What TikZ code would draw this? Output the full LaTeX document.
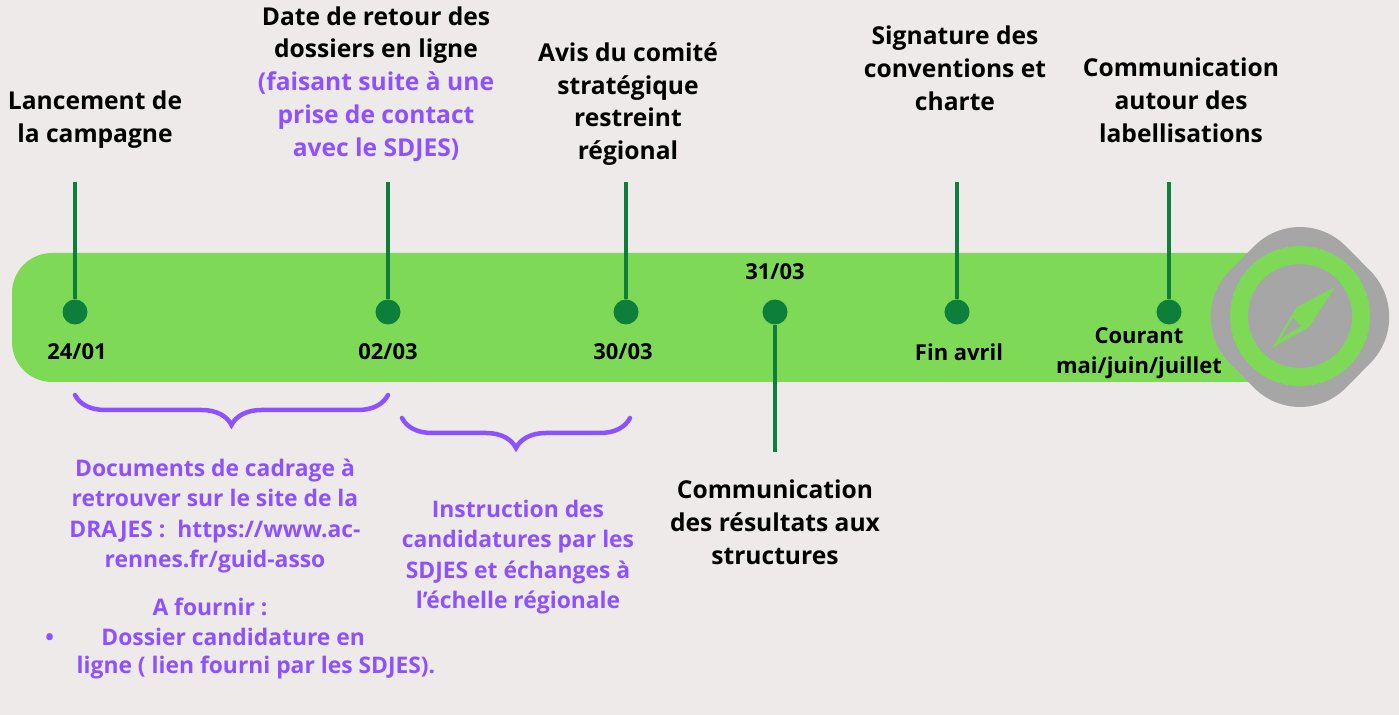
\documentclass[tikz,border=0pt]{standalone}
\usepackage{fontspec}
\setmainfont{Open Sans}
\usetikzlibrary{decorations.pathreplacing}
\definecolor{bgcol}{HTML}{EEEAE9}
\definecolor{barcol}{HTML}{7ED957}
\definecolor{stemcol}{HTML}{0E7F3A}
\definecolor{violet}{HTML}{8C52FF}
\definecolor{greycol}{HTML}{A6A6A6}

\begin{document}
\begin{tikzpicture}[x=0.02cm, y=-0.02cm,
  head/.style={align=center, font=\bfseries\fontsize{14}{18.7}\selectfont, text=black, inner sep=0pt},
  note/.style={align=center, font=\bfseries\fontsize{13}{17.2}\selectfont, text=violet, inner sep=0pt},
  datelbl/.style={font=\bfseries\fontsize{12.5}{17}\selectfont, align=center, inner sep=0pt},
  stem/.style={stemcol, line width=0.09cm},
  pin/.style={circle, fill=stemcol, minimum size=0.5cm, inner sep=0pt},
  bracket/.style={violet, line width=0.09cm, line cap=round, decorate, decoration={brace, mirror, amplitude=0.6cm}}]

% Background
\fill[bgcol] (0,0) rectangle (1399,715);
\useasboundingbox (0,0) rectangle (1399,715);

% Bar
\fill[barcol, rounded corners=0.8cm] (12,253) rectangle (1330,382);

% Compass
\fill[greycol, rounded corners=1.3cm] (1300,200) -- (1416,317) -- (1300,434) -- (1184,317) -- cycle;
\fill[barcol] (1300,316) circle [radius=1.4cm];
\fill[greycol] (1300,316) circle [radius=1.04cm];
\fill[barcol] (1335,287) -- (1297,307) -- (1272,348) -- (1309,327) -- cycle;
\fill[greycol] (1293,318) -- (1280,339) -- (1301,326) -- cycle;

% Stems and pins
\foreach \nm/\px in {lanc/75, retour/388, avis/626, sign/957, comm/1169} {
  \coordinate (\nm-top) at (\px,182);
  \node[pin] (\nm) at (\px,312) {};
  \draw[stem] (\nm-top) -- (\nm);
}
\node[pin] (res) at (775,312) {};
\coordinate (res-bot) at (775,452);
\draw[stem] (res) -- (res-bot);

% Dates
\node[datelbl] (d1) at (77,352) {24/01};
\node[datelbl] (d2) at (388,352) {02/03};
\node[datelbl] (d3) at (623,352) {30/03};
\node[datelbl] (d4) at (775,272) {31/03};
\node[datelbl] (d5) at (959,352) {Fin avril};
\node[datelbl] (d6) at (1139,353) {Courant\\mai/juin/juillet};

% Headings
\node[head] (t1) at (95,120) {Lancement de\\la campagne};
\node[head, anchor=north] (t2) at (376,6) {Date de retour des\\dossiers en ligne\\\textcolor{violet}{(faisant suite à une}\\\textcolor{violet}{prise de contact}\\\textcolor{violet}{avec le SDJES)}};
\node[head] (t3) at (628,104) {Avis du comité\\stratégique\\restreint\\régional};
\node[head] (t4) at (955,68) {Signature des\\conventions et\\charte};
\node[head] (t5) at (1181,100) {Communication\\autour des\\labellisations};
\node[head] (t6) at (775,522) {Communication\\des résultats aux\\structures};

% Braces
\coordinate (b1a) at (75,395);
\coordinate (b1b) at (388,395);
\coordinate (b2a) at (402,418);
\coordinate (b2b) at (630,418);
\draw[bracket] (b1a) -- (b1b);
\draw[bracket] (b2a) -- (b2b);

% Notes
\node[note] (n1) at (215,516) {Documents de cadrage à\\retrouver sur le site de la\\DRAJES :\ \ https://www.ac-\\rennes.fr/guid-asso};
\node[note] (n2) at (210,607) {A fournir :};
\node[note, anchor=west] (n3) at (45,637) {•\hspace{0.95cm}Dossier candidature en};
\node[note] (n4) at (256,668) {ligne ( lien fourni par les SDJES).};
\node[note] (n5) at (518,557) {Instruction des\\candidatures par les\\SDJES et échanges à\\l'échelle régionale};

\end{tikzpicture}
\end{document}
